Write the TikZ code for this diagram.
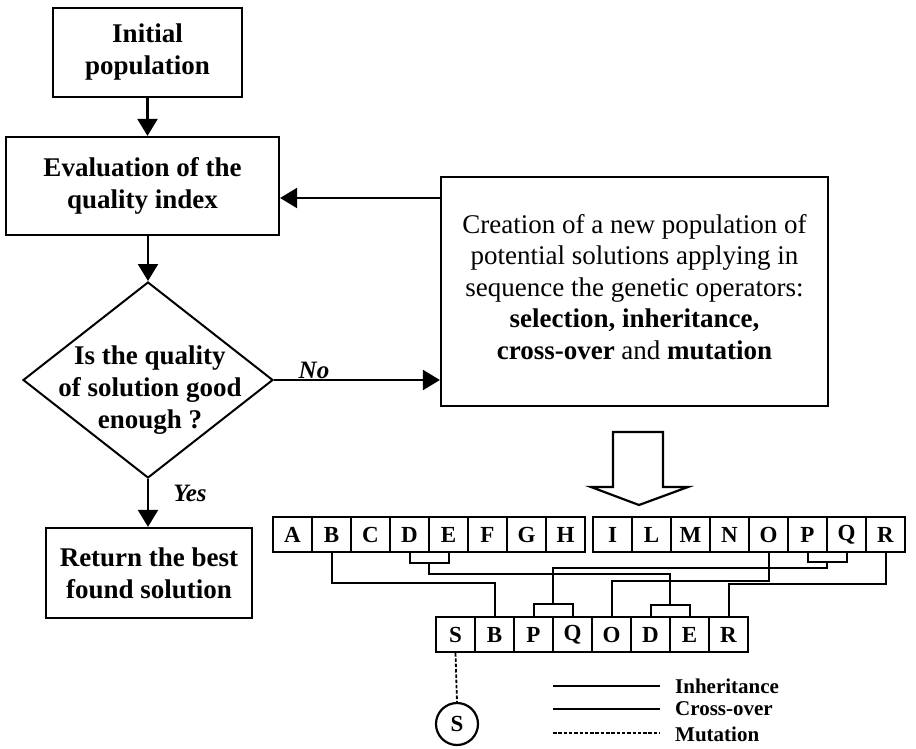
\documentclass[tikz,border=0pt]{standalone}
\usepackage{fontspec}
\setmainfont{Liberation Serif}
\usetikzlibrary{calc,shapes.geometric,arrows.meta}
\begin{document}
\begin{tikzpicture}[x=1pt,y=-1pt,
  box/.style={draw,line width=2.2pt,inner sep=0pt,align=center,font=\fontsize{27}{32}\selectfont\bfseries},
  arr/.style={line width=2.2pt,-{Triangle[length=17pt,width=20pt]}},
  cell/.style={draw,line width=2.2pt,minimum width=39pt,minimum height=35pt,inner sep=0pt,font=\fontsize{23}{23}\selectfont\bfseries},
  conn/.style={line width=2pt},
  lab/.style={font=\fontsize{25}{25}\selectfont\bfseries\itshape},
  legtext/.style={anchor=west,inner sep=0pt,font=\fontsize{21}{21}\selectfont\bfseries},
  mutline/.style={line width=1.8pt,dash pattern=on 3.5pt off 1.8pt},
]
\useasboundingbox (0,0) rectangle (916,748);

% flowchart
\node[box,minimum width=189pt,minimum height=89pt] (init) at (147.5,52.5) {Initial\\population};
\node[box,minimum width=273pt,minimum height=98pt] (eval) at (142.5,186) {Evaluation of the\\quality index};
\node[draw,line width=2pt,shape=diamond,minimum width=250pt,minimum height=196pt,inner sep=0pt] (dec) at (148,380) {};
\node[align=center,inner sep=0pt,font=\fontsize{27}{32}\selectfont\bfseries] (dectext) at (150,390) {Is the quality\\of solution good\\enough ?};
\node[box,minimum width=387pt,minimum height=229pt] (create) at (634.5,291.5) {};
\node[align=center,inner sep=0pt,font=\fontsize{27}{31.5}\selectfont] (ctext) at (634.5,287) {Creation of a new population of\\potential solutions applying in\\sequence the genetic operators:\\\textbf{selection, inheritance,}\\\textbf{cross-over} and \textbf{mutation}};
\node[box,minimum width=206pt,minimum height=90pt] (ret) at (149,573) {Return the best\\found solution};

\draw[arr] (init.south) -- (init.south |- eval.north);
\draw[arr] (eval.south -| dec.north) -- (dec.north);
\draw[arr] (dec.east) -- (create.west |- dec.east);
\draw[arr] (create.west |- 0,198) -- (eval.east |- 0,198);
\draw[arr] (dec.south) -- (dec.south |- ret.north);
\node[lab] (no) at (314,370) {No};
\node[lab] (yes) at (190,493) {Yes};

% big hollow arrow
\draw[line width=2.2pt,line join=miter] (613,432) -- (663,432) -- (663,487) -- (688,487) -- (639,505) -- (591,487) -- (613,487) -- cycle;

% chromosomes
\foreach \l [count=\i from 0] in {A,B,C,D,E,F,G,H}
  \node[cell] (t\l) at (292.5+39*\i,534.5) {\l};
\foreach \l [count=\i from 0] in {I,L,M,N,O,P,Q,R}
  \node[cell] (t\l) at (612.5+39*\i,534.5) {\l};
\foreach \l [count=\i from 0] in {S,B,P,Q,O,D,E,R}
  \node[cell] (b\l) at (455.5+39*\i,634.5) {\l};

% inheritance B
\draw[conn] (tB.south) |- (bB.north |- 0,583) -- (bB.north);
% cross-over D/E
\draw[conn] (tD.south) |- (tE.south |- 0,563) -- (tE.south);
\coordinate (deT) at ($(tD.south)!.5!(tE.south)$);
\coordinate (deB) at ($(bD.north)!.5!(bE.north)$);
\draw[conn] (deT |- 0,563) |- (deB |- 0,574) -- (deB |- 0,605);
\draw[conn] (bD.north) |- (bE.north |- 0,605) -- (bE.north);
% cross-over P/Q
\draw[conn] (tP.south) |- (tQ.south |- 0,562) -- (tQ.south);
\coordinate (pqT) at ($(tP.south)!.5!(tQ.south)$);
\coordinate (pqB) at ($(bP.north)!.5!(bQ.north)$);
\draw[conn] (pqT |- 0,562) |- (pqB |- 0,568) -- (pqB |- 0,604);
\draw[conn] (bP.north) |- (bQ.north |- 0,604) -- (bQ.north);
% inheritance O, R
\draw[conn] (tO.south) |- (bO.north |- 0,581) -- (bO.north);
\draw[conn] (tR.south) |- (bR.north |- 0,584) -- (bR.north);

% mutation
\node[draw,circle,line width=2.2pt,minimum size=42pt,inner sep=0pt,font=\fontsize{23}{23}\selectfont\bfseries] (mut) at (457,724) {S};
\draw[mutline] (bS.south) -- (mut.north);

% legend
\node[legtext] (lgI) at (675,686) {Inheritance};
\node[legtext] (lgC) at (675,709) {Cross-over};
\node[legtext] (lgM) at (675,734) {Mutation};
\coordinate (lgIa) at (553,686);
\coordinate (lgCa) at (553,709);
\coordinate (lgMa) at (553,733);
\draw[line width=2.4pt] (lgIa) -- (lgIa -| 660,0);
\draw[line width=1.8pt] (lgCa) -- (lgCa -| 660,0);
\draw[mutline] (lgMa) -- (lgMa -| 660,0);
\end{tikzpicture}
\end{document}
